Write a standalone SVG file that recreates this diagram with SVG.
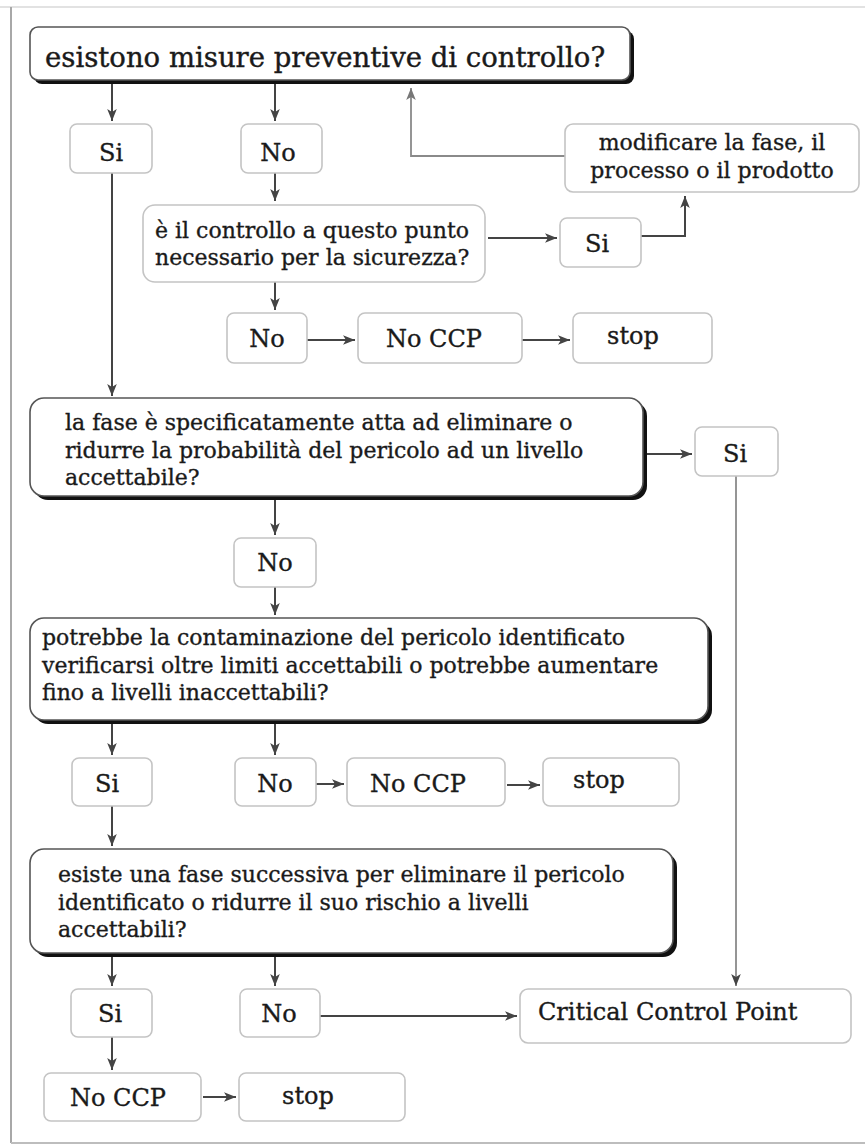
<svg xmlns="http://www.w3.org/2000/svg" width="865" height="1145" viewBox="0 0 865 1145">
<defs>
<style>
.box{fill:#fff;stroke:#c4c4c4;stroke-width:1.6}
.hbox{fill:#fff;stroke:#555;stroke-width:1.6}
.shadow{fill:#111}
.lbl{font-family:"DejaVu Serif","Liberation Serif",serif;font-size:24px;fill:#1a1a1a;stroke:#1a1a1a;stroke-width:0.35;text-anchor:middle}
.q{font-family:"DejaVu Serif","Liberation Serif",serif;font-size:22px;fill:#1a1a1a;stroke:#1a1a1a;stroke-width:0.35}
.conn{fill:none;stroke:#444;stroke-width:2}
.conn.light{stroke:#8a8a8a;stroke-width:1.8}
</style>
<marker id="ah" viewBox="0 0 10 8" refX="10" refY="4" markerWidth="12" markerHeight="10" markerUnits="userSpaceOnUse" orient="auto">
<path d="M0,0 L10,4 L0,8 L2.5,4 z" fill="#444"/>
</marker>
<marker id="ahl" viewBox="0 0 10 8" refX="10" refY="4" markerWidth="12" markerHeight="10" markerUnits="userSpaceOnUse" orient="auto">
<path d="M0,0 L10,4 L0,8 L2.5,4 z" fill="#777"/>
</marker>
</defs>
<rect x="0" y="0" width="865" height="1145" fill="#fff"/>
<g id="frame">
<line x1="0" y1="7" x2="865" y2="7" stroke="#e2e2e2" stroke-width="2"/>
<line x1="11" y1="7" x2="11" y2="1143" stroke="#a8a8a8" stroke-width="2"/>
<line x1="11" y1="1143" x2="865" y2="1143" stroke="#bdbdbd" stroke-width="2"/>
</g>
<g id="connectors">
<path class="conn" d="M112,84 V121" marker-end="url(#ah)"/>
<path class="conn" d="M275,84 V121" marker-end="url(#ah)"/>
<path class="conn" d="M275,173 V201" marker-end="url(#ah)"/>
<path class="conn" d="M112,173 V396" marker-end="url(#ah)"/>
<path class="conn" d="M488,238 H557" marker-end="url(#ah)"/>
<path class="conn" d="M641,236 H685 V196" marker-end="url(#ah)"/>
<path class="conn light" d="M565,156 H411 V88" marker-end="url(#ahl)"/>
<path class="conn" d="M275,282 V310" marker-end="url(#ah)"/>
<path class="conn" d="M307,340 H355" marker-end="url(#ah)"/>
<path class="conn" d="M522,340 H570" marker-end="url(#ah)"/>
<path class="conn" d="M647,454 H692" marker-end="url(#ah)"/>
<path class="conn light" d="M736,476 V986" marker-end="url(#ah)"/>
<path class="conn" d="M275,500 V535" marker-end="url(#ah)"/>
<path class="conn" d="M275,587 V615" marker-end="url(#ah)"/>
<path class="conn" d="M112,724 V755" marker-end="url(#ah)"/>
<path class="conn" d="M275,724 V755" marker-end="url(#ah)"/>
<path class="conn" d="M316,784 H344" marker-end="url(#ah)"/>
<path class="conn" d="M507,785 H540" marker-end="url(#ah)"/>
<path class="conn" d="M112,806 V846" marker-end="url(#ah)"/>
<path class="conn" d="M112,957 V986" marker-end="url(#ah)"/>
<path class="conn" d="M275,957 V986" marker-end="url(#ah)"/>
<path class="conn" d="M320,1016 H517" marker-end="url(#ah)"/>
<path class="conn" d="M112,1037 V1070" marker-end="url(#ah)"/>
<path class="conn" d="M203,1097 H236" marker-end="url(#ah)"/>
</g>
<g id="n-title">
<rect class="shadow" x="34" y="31" width="600" height="53" rx="8"/>
<rect class="hbox" x="30" y="27" width="600" height="53" rx="8"/>
<text x="45" y="67" style="font-family:'DejaVu Serif','Liberation Serif',serif;font-size:27.5px;fill:#1a1a1a;stroke:#1a1a1a;stroke-width:0.4">esistono misure preventive di controllo?</text>
</g>
<g id="n-si1"><rect class="box" x="70" y="124" width="82" height="49" rx="7"/><text class="lbl" x="111" y="161">Si</text></g>
<g id="n-no1"><rect class="box" x="241" y="124" width="81" height="49" rx="7"/><text class="lbl" x="278" y="161">No</text></g>
<g id="n-q2">
<rect class="box" x="143" y="205" width="342" height="77" rx="12"/>
<text class="q" x="155" y="238">è il controllo a questo punto</text>
<text class="q" x="155" y="265">necessario per la sicurezza?</text>
</g>
<g id="n-si2"><rect class="box" x="560" y="218" width="81" height="49" rx="7"/><text class="lbl" x="597" y="252">Si</text></g>
<g id="n-mod">
<rect class="box" x="565" y="124" width="294" height="68" rx="8"/>
<text class="q" x="712" y="150" text-anchor="middle">modificare la fase, il</text>
<text class="q" x="712" y="178" text-anchor="middle">processo o il prodotto</text>
</g>
<g id="n-no2"><rect class="box" x="227" y="313" width="80" height="50" rx="7"/><text class="lbl" x="267" y="347">No</text></g>
<g id="n-noccp1"><rect class="box" x="358" y="313" width="164" height="50" rx="7"/><text class="lbl" x="434" y="347">No CCP</text></g>
<g id="n-stop1"><rect class="box" x="573" y="313" width="139" height="50" rx="7"/><text class="lbl" x="633" y="344">stop</text></g>
<g id="n-q3">
<rect class="shadow" x="34" y="402" width="613" height="98" rx="14"/>
<rect class="hbox" x="30" y="398" width="613" height="98" rx="14"/>
<text class="q" x="65" y="430">la fase è specificatamente atta ad eliminare o</text>
<text class="q" x="65" y="458">ridurre la probabilità del pericolo ad un livello</text>
<text class="q" x="65" y="485">accettabile?</text>
</g>
<g id="n-si3"><rect class="box" x="695" y="427" width="83" height="49" rx="7"/><text class="lbl" x="735" y="462">Si</text></g>
<g id="n-no3"><rect class="box" x="234" y="538" width="82" height="49" rx="7"/><text class="lbl" x="275" y="571">No</text></g>
<g id="n-q4">
<rect class="shadow" x="34" y="622" width="678" height="102" rx="14"/>
<rect class="hbox" x="30" y="618" width="678" height="102" rx="14"/>
<text class="q" x="42" y="645">potrebbe la contaminazione del pericolo identificato</text>
<text class="q" x="42" y="673">verificarsi oltre limiti accettabili o potrebbe aumentare</text>
<text class="q" x="42" y="700">fino a livelli inaccettabili?</text>
</g>
<g id="n-si4"><rect class="box" x="72" y="758" width="80" height="48" rx="7"/><text class="lbl" x="107" y="792">Si</text></g>
<g id="n-no4"><rect class="box" x="235" y="758" width="81" height="48" rx="7"/><text class="lbl" x="275" y="792">No</text></g>
<g id="n-noccp2"><rect class="box" x="347" y="758" width="158" height="48" rx="7"/><text class="lbl" x="418" y="792">No CCP</text></g>
<g id="n-stop2"><rect class="box" x="543" y="758" width="136" height="48" rx="7"/><text class="lbl" x="599" y="788">stop</text></g>
<g id="n-q5">
<rect class="shadow" x="34" y="853" width="643" height="104" rx="14"/>
<rect class="hbox" x="30" y="849" width="643" height="104" rx="14"/>
<text class="q" x="58" y="882">esiste una fase successiva per eliminare il pericolo</text>
<text class="q" x="58" y="910">identificato o ridurre il suo rischio a livelli</text>
<text class="q" x="58" y="937">accettabili?</text>
</g>
<g id="n-si5"><rect class="box" x="71" y="989" width="81" height="48" rx="7"/><text class="lbl" x="110" y="1022">Si</text></g>
<g id="n-no5"><rect class="box" x="240" y="989" width="80" height="48" rx="7"/><text class="lbl" x="279" y="1022">No</text></g>
<g id="n-ccp"><rect class="box" x="520" y="989" width="331" height="54" rx="8"/><text class="lbl" x="538" y="1020" style="text-anchor:start">Critical Control Point</text></g>
<g id="n-noccp3"><rect class="box" x="44" y="1073" width="157" height="48" rx="7"/><text class="lbl" x="118" y="1106">No CCP</text></g>
<g id="n-stop3"><rect class="box" x="239" y="1073" width="166" height="48" rx="7"/><text class="lbl" x="308" y="1104">stop</text></g>
</svg>
